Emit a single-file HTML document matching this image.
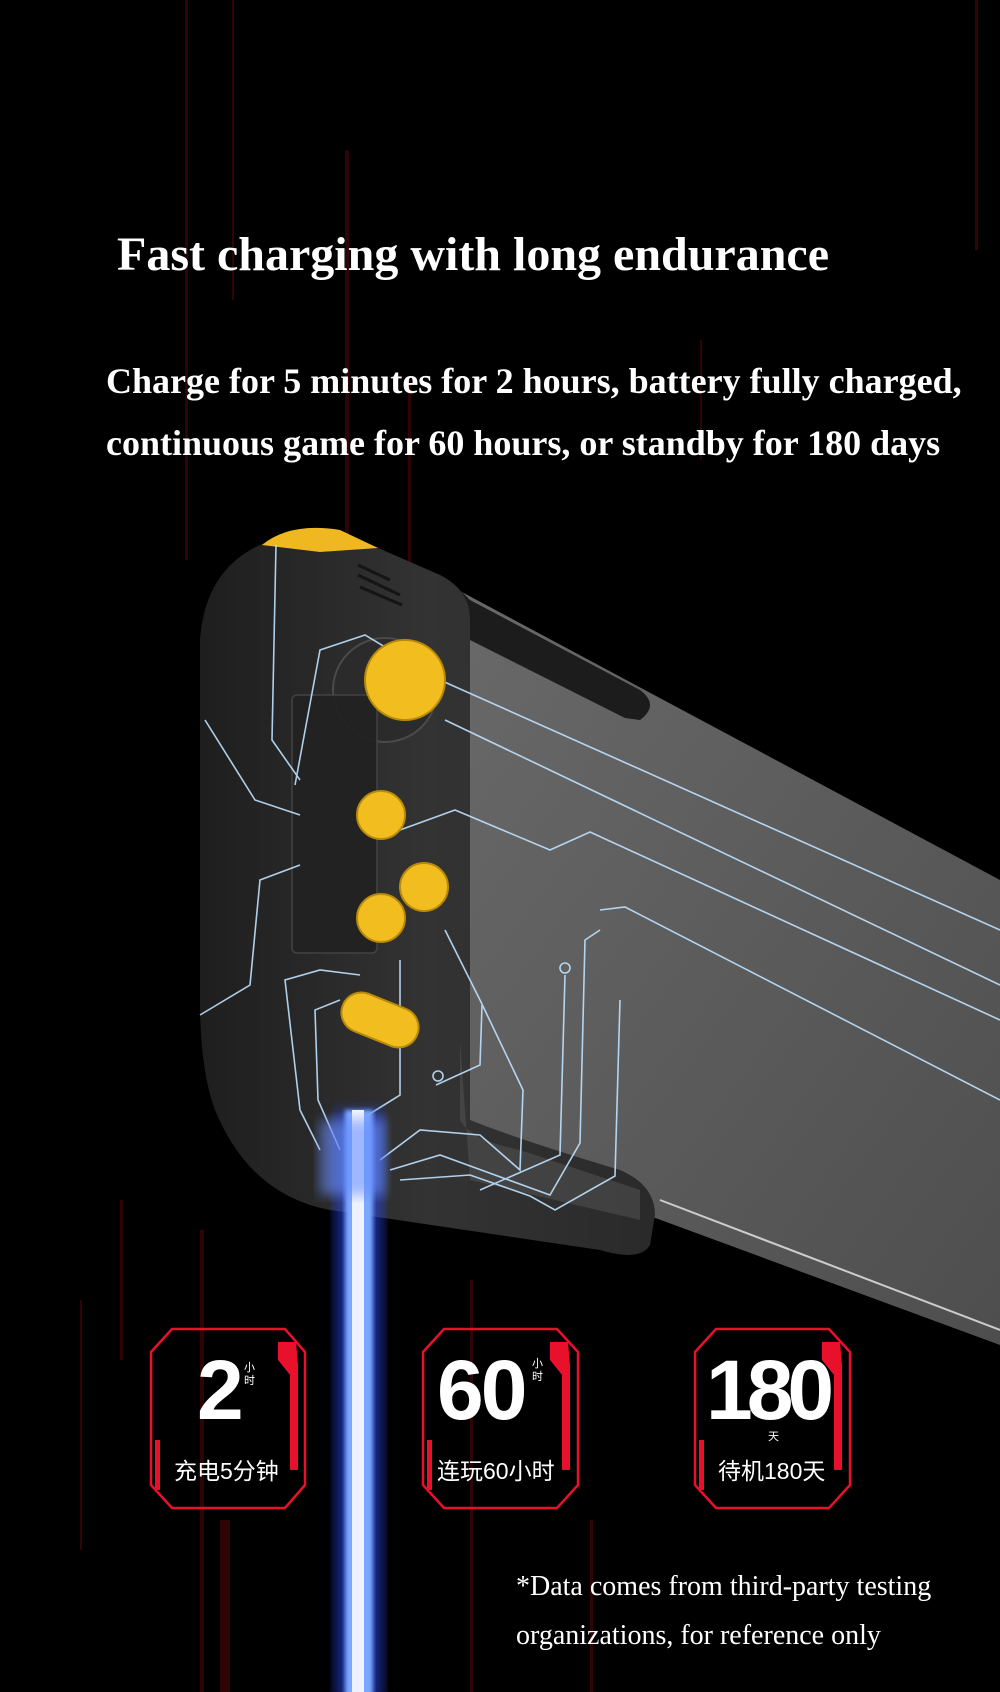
<!DOCTYPE html>
<html><head><meta charset="utf-8"><style>
html,body{margin:0;padding:0;background:#000;}
#c{position:relative;width:1000px;height:1692px;overflow:hidden;background:#000;}
.t{position:absolute;color:#fff;font-family:"Liberation Serif",serif;white-space:nowrap;}
.cn{font-family:"Liberation Sans","Noto Sans CJK SC",sans-serif;}
</style></head><body><div id="c">
<svg width="1000" height="1692" style="position:absolute;left:0;top:0">
<defs>
<linearGradient id="pl" x1="0" y1="0" x2="1" y2="1"><stop offset="0" stop-color="#6a6a6a"/><stop offset="1" stop-color="#4e4e4e"/></linearGradient>
<linearGradient id="gr" x1="0" y1="0" x2="1" y2="0"><stop offset="0" stop-color="#1e1e1e"/><stop offset="0.5" stop-color="#333"/><stop offset="1" stop-color="#2a2a2a"/></linearGradient>
<filter id="gl"><feGaussianBlur stdDeviation="6"/></filter>
<filter id="gl2"><feGaussianBlur stdDeviation="2"/></filter>
</defs>
<g fill="#3a0508" opacity="0.8">
<rect x="185" y="0" width="3" height="560"/><rect x="232" y="0" width="2" height="300"/><rect x="345" y="150" width="4" height="450"/>
<rect x="408" y="380" width="3" height="200"/><rect x="700" y="340" width="2" height="120"/><rect x="975" y="0" width="3" height="250"/>
<rect x="200" y="1230" width="4" height="462"/><rect x="220" y="1520" width="10" height="172"/><rect x="470" y="1280" width="3" height="412"/>
<rect x="80" y="1300" width="2" height="250"/><rect x="590" y="1520" width="3" height="172"/><rect x="120" y="1200" width="3" height="160"/>
</g>
<path d="M430 575 L1000 880 L1000 1345 L620 1205 L440 1140 Z" fill="url(#pl)"/>
<path d="M460 590 L470 600 L640 690 Q660 705 640 720 L625 718 L470 640 Z" fill="#1c1c1c"/>
<line x1="660" y1="1200" x2="1000" y2="1330" stroke="#ccc" stroke-width="2"/>
<path d="M260 545 Q300 525 360 540 L440 575 Q470 590 470 620 L470 1120 Q520 1140 620 1170 Q655 1185 655 1215 L650 1245 Q640 1262 600 1250 L330 1210 Q250 1195 215 1110 Q200 1070 200 1000 L200 640 Q205 570 260 545 Z" fill="url(#gr)"/>
<path d="M460 1040 L460 1120 Q470 1140 520 1150 L640 1190 L640 1220 L470 1180 Z" fill="#555" opacity="0.5"/>
<path d="M262 545 Q290 522 340 530 L378 548 L320 552 Z" fill="#f0b820"/>
<circle cx="385" cy="690" r="52" fill="#2b2b2b" stroke="#4a4a4a" stroke-width="2"/>
<rect x="292" y="695" width="85" height="258" rx="5" fill="#222" stroke="#444" stroke-width="1.5" opacity="0.95"/>
<g fill="none" stroke="#bfe2ff" stroke-width="1.6" opacity="0.9">
<polyline points="276,545 272,740 300,780"/>
<polyline points="205,720 255,800 300,815"/>
<polyline points="200,1015 250,985 260,880 300,865"/>
<polyline points="295,785 320,650 365,635 440,680 1000,930"/>
<polyline points="445,720 1000,985"/>
<polyline points="400,830 455,810 550,850 590,832 1000,1020"/>
<polyline points="600,910 625,907 1000,1100"/>
<polyline points="320,1150 300,1110 285,980 320,970 360,975"/>
<polyline points="340,1150 318,1100 315,1010 340,1000"/>
<polyline points="360,1150 360,1120 400,1095 400,960"/>
<polyline points="380,1160 420,1130 480,1135 520,1170 523,1090 480,1000 445,930"/>
<polyline points="390,1170 440,1155 550,1195 580,1143 585,940 600,930"/>
<polyline points="400,1180 470,1175 530,1196 555,1210 615,1176 620,1000"/>
<polyline points="436,1085 480,1065 482,1005"/>
<circle cx="438" cy="1076" r="5"/><circle cx="565" cy="968" r="5"/>
<polyline points="565,975 560,1155 480,1190"/>
</g>
<g fill="#f2bd1f" stroke="#b88a08" stroke-width="2">
<circle cx="405" cy="680" r="40"/>
<circle cx="381" cy="815" r="24"/>
<circle cx="424" cy="887" r="24"/>
<circle cx="381" cy="918" r="24"/>
<rect x="340" y="1000" width="80" height="40" rx="20" transform="rotate(22 380 1020)"/>
</g>
<g stroke="#151515" stroke-width="3"><line x1="358" y1="565" x2="390" y2="580"/><line x1="358" y1="575" x2="400" y2="595"/><line x1="360" y1="587" x2="402" y2="605"/></g>
<rect x="335" y="1110" width="48" height="590" fill="#2a4cff" opacity="0.55" filter="url(#gl)"/>
<rect x="345" y="1110" width="28" height="590" fill="#7aa8ff" filter="url(#gl2)"/>
<rect x="352" y="1110" width="12" height="590" fill="#eef2ff"/>
<rect x="320" y="1120" width="65" height="75" fill="#6a90ff" opacity="0.6" filter="url(#gl)"/>
<g fill="none" stroke="#e8102a" stroke-width="2.5">
<path d="M172 1329 L285 1329 L305 1352 L305 1485 L285 1508 L172 1508 L151 1485 L151 1352 Z"/>
<path d="M444 1329 L557 1329 L578 1352 L578 1485 L557 1508 L444 1508 L423 1485 L423 1352 Z"/>
<path d="M716 1329 L829 1329 L850 1352 L850 1485 L829 1508 L716 1508 L695 1485 L695 1352 Z"/>
</g>
<g fill="#e8102a">
<path d="M290 1342 L296 1342 L298 1365 L298 1470 L290 1470 L290 1375 L278 1360 L278 1342 Z"/>
<path d="M562 1342 L568 1342 L570 1365 L570 1470 L562 1470 L562 1375 L550 1360 L550 1342 Z"/>
<path d="M834 1342 L840 1342 L842 1365 L842 1470 L834 1470 L834 1375 L822 1360 L822 1342 Z"/>
<rect x="155" y="1440" width="5" height="50"/><rect x="427" y="1440" width="5" height="50"/><rect x="699" y="1440" width="5" height="50"/>
</g>
</svg>
<div class="t" style="left:117px;top:227px;font-size:48px;font-weight:bold;">Fast charging with long endurance</div>
<div class="t" style="left:106px;top:360px;font-size:36px;font-weight:bold;">Charge for 5 minutes for 2 hours, battery fully charged,</div>
<div class="t" style="left:106px;top:422px;font-size:36px;font-weight:bold;">continuous game for 60 hours, or standby for 180 days</div>
<div class="t cn" style="left:197px;top:1348px;font-size:84px;font-weight:bold;line-height:1;">2</div>
<div class="t cn" style="left:244px;top:1362px;font-size:11px;line-height:13px;width:12px;white-space:normal;">小时</div>
<div class="t cn" style="left:174px;top:1452px;font-size:23px;">充电5分钟</div>
<div class="t cn" style="left:437px;top:1348px;font-size:84px;font-weight:bold;line-height:1;letter-spacing:-3px;">60</div>
<div class="t cn" style="left:532px;top:1358px;font-size:11px;line-height:13px;width:12px;white-space:normal;">小时</div>
<div class="t cn" style="left:437px;top:1452px;font-size:23px;">连玩60小时</div>
<div class="t cn" style="left:706px;top:1348px;font-size:84px;font-weight:bold;line-height:1;letter-spacing:-6px;">180</div>
<div class="t cn" style="left:768px;top:1428px;font-size:11px;">天</div>
<div class="t cn" style="left:718px;top:1452px;font-size:23px;">待机180天</div>
<div class="t" style="left:516px;top:1571px;font-size:28px;">*Data comes from third-party testing</div>
<div class="t" style="left:516px;top:1620px;font-size:28px;">organizations, for reference only</div>
</div></body></html>
